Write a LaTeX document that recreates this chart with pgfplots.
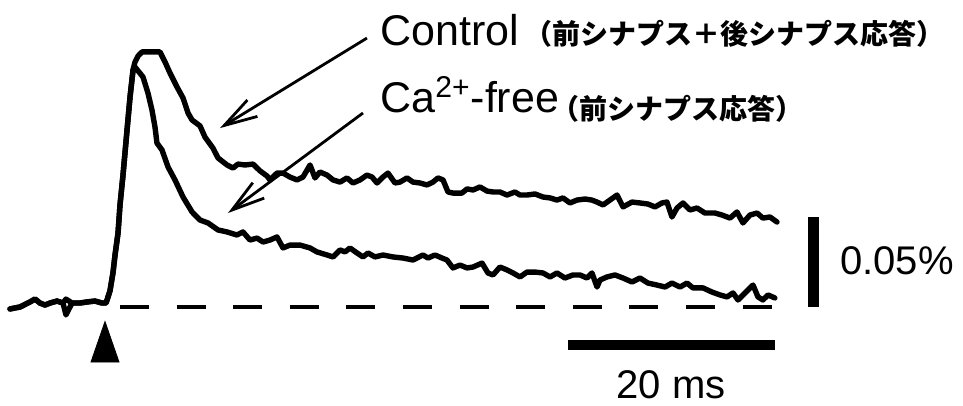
\documentclass[border=0pt]{standalone}
\usepackage{fontspec}
\setmainfont{Liberation Sans}
\newfontfamily\cjk{Noto Sans CJK JP}
\usepackage{pgfplots}
\pgfplotsset{compat=1.18}
\usetikzlibrary{arrows.meta}
\begin{document}
\begin{tikzpicture}
\begin{axis}[scale only axis, width=481.5pt, height=203pt,
  xmin=-10.145, xmax=82.90, ymin=-0.055, ymax=0.17056,
  hide axis, clip=false]
% Control trace (% signal vs ms)
\addplot[black, line width=2.7pt, line join=round, line cap=round] coordinates {
(-9.18,-0.0011) (-8.21,0) (-7.25,0.0028) (-6.76,0.0044) (-6.28,0.0022) (-5.80,0.0011) (-5.31,0.0022) (-4.64,0.0033) (-4.06,0.0022) (-3.77,0.0044) (-3.19,0.0022) (-2.42,0.0022) (-1.74,0.0028) (-0.97,0.0033) (-0.29,0.0022) (0.10,0.0022)
(0.48,0.0089) (0.77,0.0189) (0.97,0.0289) (1.26,0.0411) (1.45,0.0567) (1.74,0.0733) (2.13,0.0983) (2.42,0.1167) (2.71,0.1317)
(2.90,0.1361) (3.19,0.1394) (3.57,0.1417) (5.31,0.1417) (5.80,0.1361) (6.28,0.1300) (6.96,0.1222) (7.54,0.1161) (8.02,0.1078) (8.41,0.1039) (9.18,0.1006) (9.66,0.0944) (10.43,0.0883) (10.92,0.0828) (11.79,0.0789) (12.37,0.0772) (12.85,0.0794) (13.53,0.0789) (14.30,0.0794) (14.98,0.0756) (15.65,0.0728) (15.94,0.0706) (16.62,0.0744) (17.20,0.0744) (17.87,0.0722) (18.55,0.0706) (19.13,0.0722) (19.81,0.0789) (20.29,0.0717) (20.77,0.0750) (21.45,0.0733) (22.03,0.0706) (22.71,0.0694) (23.38,0.0717) (23.96,0.0689) (24.64,0.0706) (25.31,0.0733) (25.80,0.0722) (26.28,0.0689) (26.86,0.0722) (27.34,0.0744) (28.02,0.0689) (28.50,0.0694) (29.18,0.0717) (29.76,0.0694) (30.43,0.0689) (31.11,0.0678) (31.69,0.0694) (32.17,0.0717) (32.66,0.0706) (33.14,0.0639) (33.62,0.0633) (34.49,0.0633) (34.98,0.0656) (35.56,0.0650) (36.23,0.0667) (36.91,0.0644) (37.49,0.0639) (38.16,0.0639) (38.84,0.0622) (39.61,0.0639) (40.10,0.0622) (40.77,0.0622) (41.55,0.0628) (42.32,0.0611) (43.00,0.0606) (43.67,0.0594) (44.25,0.0606) (44.93,0.0578) (45.60,0.0594) (46.38,0.0600) (47.05,0.0594) (47.54,0.0583) (48.12,0.0567) (48.79,0.0594) (49.47,0.0622) (50.05,0.0556) (50.92,0.0583) (51.69,0.0578) (52.46,0.0572) (53.14,0.0556) (53.82,0.0578) (54.30,0.0583) (54.78,0.0500) (55.27,0.0550) (55.85,0.0578) (56.52,0.0539) (57.20,0.0550) (57.97,0.0522) (58.94,0.0522) (59.61,0.0511) (60.39,0.0494) (61.06,0.0528) (61.64,0.0467) (62.32,0.0511) (63.00,0.0522) (63.57,0.0494) (64.25,0.0500) (64.93,0.0472)
};
% Ca2+-free trace
\addplot[black, line width=2.7pt, line join=round, line cap=round] coordinates {
(-9.18,-0.0011) (-8.21,0) (-7.25,0.0028) (-6.76,0.0044) (-6.28,0.0022) (-5.80,0.0011) (-5.31,0.0022) (-4.64,0.0033) (-4.06,0.0022) (-3.77,-0.0044) (-3.19,0.0022) (-2.42,0.0022) (-1.74,0.0028) (-0.97,0.0033) (-0.29,0.0022) (0.10,0.0022)
(0.48,0.0089) (0.77,0.0189) (0.97,0.0289) (1.26,0.0411) (1.45,0.0567) (1.74,0.0733) (2.13,0.0983) (2.42,0.1167) (2.71,0.1317)
(2.90,0.1333) (3.67,0.1278) (4.15,0.1189) (4.54,0.1094) (4.83,0.1000) (5.02,0.0911) (5.51,0.0872) (6.09,0.0778) (6.76,0.0706) (7.54,0.0611) (8.41,0.0528) (9.18,0.0483) (9.95,0.0467) (10.92,0.0428) (11.79,0.0417) (12.75,0.0400) (13.33,0.0417) (14.01,0.0372) (14.69,0.0383) (15.27,0.0361) (15.94,0.0372) (16.62,0.0389) (17.20,0.0328) (17.87,0.0344) (18.84,0.0344) (19.81,0.0328) (20.48,0.0306) (21.45,0.0289) (22.03,0.0278) (22.71,0.0317) (23.19,0.0306) (23.67,0.0328) (24.35,0.0300) (24.93,0.0278) (25.41,0.0300) (26.09,0.0278) (26.86,0.0289) (27.83,0.0278) (28.79,0.0272) (29.76,0.0261) (30.72,0.0289) (31.21,0.0272) (31.88,0.0289) (32.56,0.0272) (33.04,0.0261) (33.62,0.0217) (34.30,0.0233) (34.98,0.0217) (35.56,0.0222) (36.43,0.0244) (37.00,0.0189) (37.49,0.0178) (38.16,0.0222) (38.84,0.0206) (39.42,0.0189) (40.10,0.0167) (40.77,0.0194) (41.55,0.0194) (42.32,0.0189) (43.00,0.0167) (43.67,0.0189) (44.44,0.0161) (45.22,0.0178) (45.89,0.0178) (46.57,0.0161) (47.05,0.0189) (47.54,0.0111) (47.83,0.0150) (48.50,0.0167) (49.28,0.0178) (50.05,0.0161) (50.92,0.0139) (51.69,0.0161) (52.46,0.0133) (53.33,0.0122) (54.11,0.0111) (54.78,0.0133) (55.56,0.0111) (56.23,0.0133) (56.81,0.0106) (57.78,0.0106) (58.65,0.0083) (59.42,0.0067) (60.10,0.0056) (60.68,0.0078) (61.16,0.0039) (61.84,0.0078) (62.61,0.0122) (63.09,0.0056) (63.57,0.0039) (64.06,0.0067) (64.73,0.0050)
};
% dashed baseline
\addplot[black, line width=1.6pt, dash pattern=on 14.5pt off 13.8pt] coordinates {(1.45,0) (64.54,0)};
% scale bars
\addplot[black, line width=5pt] coordinates {(44.73,-0.0211) (64.73,-0.0211)};
\addplot[black, line width=5.5pt] coordinates {(68.50,0) (68.50,0.05)};
% stimulus marker
\addplot[black, only marks, mark=triangle*, mark size=13.5pt, mark options={xscale=0.6}] coordinates {(0,-0.0231)};
% arrows
\draw[line width=1.4pt, -{Straight Barb[length=16.5pt, width=9.6pt, line width=1.4pt]}] (axis cs:25.31,0.1494) -- (axis cs:11.11,0.0994);
\draw[line width=1.4pt, -{Straight Barb[length=16.5pt, width=9.6pt, line width=1.4pt]}] (axis cs:24.93,0.1078) -- (axis cs:11.88,0.0522);
% labels
\node[anchor=base west, inner sep=0pt, font=\fontsize{21.5}{24}\selectfont] at (axis cs:26.57,0.1450) {Control};
\node[anchor=base west, inner sep=0pt, font=\fontsize{14}{16}\cjk\bfseries] at (axis cs:40.48,0.1461) {（前シナプス＋後シナプス応答）};
\node[anchor=base west, inner sep=0pt, font=\fontsize{21.5}{24}\selectfont] at (axis cs:26.57,0.1078) {Ca\textsuperscript{2+}-free};
\node[anchor=base west, inner sep=0pt, font=\fontsize{14}{16}\cjk\bfseries] at (axis cs:43.09,0.1040) {（前シナプス応答）};
\node[anchor=base west, inner sep=0pt, font=\fontsize{20}{22}\selectfont] at (axis cs:71.01,0.0178) {0.05\%};
\node[anchor=base, inner sep=0pt, font=\fontsize{20}{22}\selectfont] at (axis cs:54.69,-0.0506) {20 ms};
\end{axis}
\pgfresetboundingbox
\path[use as bounding box] (current axis.south west) rectangle (current axis.north east);
\end{tikzpicture}
\end{document}
